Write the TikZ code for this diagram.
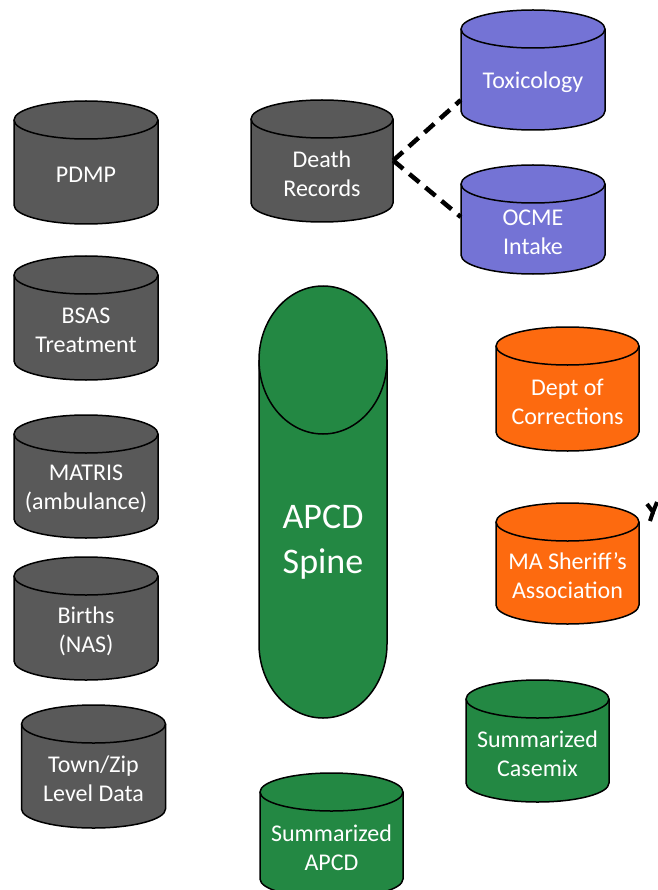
\documentclass[tikz,border=0pt]{standalone}
\usepackage{fontspec}
\setmainfont{Carlito}
\usepackage{tikz}
\definecolor{dbgray}{HTML}{595959}
\definecolor{dbpurple}{HTML}{7473D5}
\definecolor{dborange}{HTML}{FD6A0F}
\definecolor{dbgreen}{HTML}{238843}
\tikzstyle{dbside}=[draw=black,line width=1.5pt]
\tikzstyle{dbtext}=[text=white,align=center,inner sep=0pt,font=\fontsize{24}{29}\selectfont]
\tikzstyle{link} = [draw,line width=4.5pt,dash pattern=on 13pt off 8pt]
% [text options]{name}{x}{top}{width}{height}{ry}{colour}{text}
\newcommand{\dbcyl}[9][]{%
  \path[dbside,fill=#8] (#3-#5/2,#4+#7) arc[start angle=180,end angle=360,x radius=#5/2,y radius=#7]
    -- (#3+#5/2,#4+#6-#7) arc[start angle=0,end angle=180,x radius=#5/2,y radius=#7] -- cycle;
  \draw[dbside] (#3+#5/2,#4+#7) arc[start angle=0,end angle=180,x radius=#5/2,y radius=#7];
  \node[dbtext,minimum width=#5pt,#1] (#2) at (#3,{#4+3+(#7+#6)/2}) {#9};
}

\begin{document}
\begin{tikzpicture}[x=1pt,y=-1pt]
        \useasboundingbox (0,0) rectangle (657,890);
        \dbcyl{pdmp}{86}{101}{144}{123}{19}{dbgray}{PDMP}
        \dbcyl{bsas}{86}{256}{144}{124}{19}{dbgray}{BSAS\\Treatment}
        \dbcyl{matris}{86}{415}{144}{123}{19}{dbgray}{MATRIS\\(ambulance)}
        \dbcyl{births}{86}{557}{144}{123}{19}{dbgray}{Births\\(NAS)}
        \dbcyl{town}{93.5}{705}{144}{123}{19}{dbgray}{Town/Zip\\Level Data}
        \dbcyl{death}{322}{100}{142}{122}{19}{dbgray}{Death\\Records}
        \dbcyl{tox}{533}{10}{144}{120}{19}{dbpurple}{Toxicology}
        \dbcyl{ocme}{533}{165}{144}{109}{19}{dbpurple}{OCME\\Intake}
        \dbcyl{doc}{567.5}{327}{143}{124}{19}{dborange}{Dept of\\Corrections}
        \dbcyl{sheriff}{567.5}{503}{143}{121}{19}{dborange}{MA Sheriff’s\\Association}
        \dbcyl{casemix}{537.5}{680}{143}{122}{19}{dbgreen}{Summarized\\Casemix}
        \dbcyl{sapcd}{331.5}{773}{143}{125}{19}{dbgreen}{Summarized\\APCD}
        \dbcyl[font=\fontsize{36}{45}\selectfont]{spine}{323}{286}{128}{432}{74}{dbgreen}{APCD\\Spine}
        \draw[link] ([yshift=13pt]death.east) to ([yshift=-17.5pt]tox.west);
        \draw[link] ([yshift=13pt]death.east) to ([yshift=15pt]ocme.west);
        \coordinate (off) at (653,512);
        \draw[line width=4pt] (647,504) to (off) to (657,502);
        \draw[line width=4pt] (off) to (650,521);
      \end{tikzpicture}
\end{document}
